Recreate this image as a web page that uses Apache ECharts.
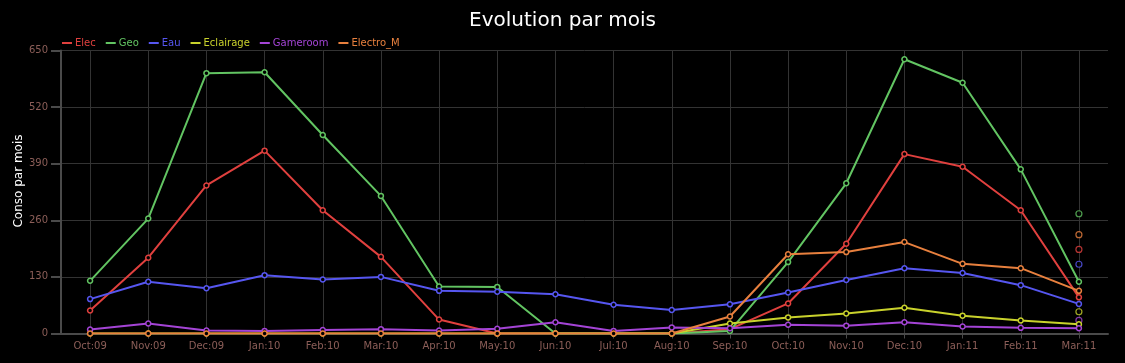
<!DOCTYPE html>
<html>
<head>
<meta charset="utf-8">
<script src="https://cdn.jsdelivr.net/npm/echarts@6/dist/echarts.min.js"></script>
<style>
html,body{margin:0;padding:0;background:#000;}
#c{width:1125px;height:363px;}
</style>
</head>
<body>
<div id="c"></div>
<script>
var categories = ['Oct:09','Nov:09','Dec:09','Jan:10','Feb:10','Mar:10','Apr:10','May:10','Jun:10','Jul:10','Aug:10','Sep:10','Oct:10','Nov:10','Dec:10','Jan:11','Feb:11','Mar:11'];
var elec      = [53,174,340,420,283,176,32,0,0,0,0,10,69,206,412,383,283,83];
var geo       = [121,264,598,600,456,316,108,107,0,0,0,6,164,345,630,576,377,119];
var eau       = [79,119,104,134,124,130,98,96,90,66,54,67,94,123,150,139,111,68];
var eclairage = [0,0,0,0,0,0,0,0,0,0,0,23,37,46,59,41,30,21];
var gameroom  = [9,23,7,6,8,10,7,11,26,6,14,12,20,18,26,16,13,12];
var electroM  = [0,0,0,0,0,0,0,0,0,0,0,39,182,187,210,160,150,98];
// isolated points at Mar:11
var projElec = 193, projGeo = 275, projEau = 159, projEclairage = 50, projGameroom = 30, projElectroM = 227;
var yTicks = [0,130,260,390,520,650];

var names = ['Elec','Geo','Eau','Eclairage','Gameroom','Electro_M'];
var values = [elec, geo, eau, eclairage, gameroom, electroM];
var projs = [projElec, projGeo, projEau, projEclairage, projGameroom, projElectroM];
var colors = ['#e0403e','#62c462','#5656f0','#c9d22c','#a444d6','#e8803e'];

var series = [];
names.forEach(function(n, i){
  series.push({
    name: n, type: 'line', data: values[i],
    symbol: 'circle', symbolSize: 5, showSymbol: true,
    lineStyle: {color: colors[i], width: 2},
    itemStyle: {color: '#000', borderColor: colors[i], borderWidth: 1.5},
    emphasis: {disabled: true}, z: 2 + i
  });
});
names.forEach(function(n, i){
  series.push({
    name: n + '_proj', type: 'scatter',
    data: [[categories[categories.length-1], projs[i]]],
    symbol: 'circle', symbolSize: 6,
    itemStyle: {color: '#000', borderColor: colors[i], borderWidth: 1.2},
    emphasis: {disabled: true}, z: 2
  });
});

var chart = echarts.init(document.getElementById('c'), null, {renderer: 'canvas'});
chart.setOption({
  backgroundColor: '#000',
  animation: false,
  textStyle: {fontFamily: 'DejaVu Sans'},
  title: {
    text: 'Evolution par mois', left: 'center', top: 6,
    textStyle: {color: '#fff', fontSize: 20, fontWeight: 'normal', fontFamily: 'DejaVu Sans'}
  },
  legend: {
    left: 57, top: 33, itemGap: 10, itemWidth: 10, itemHeight: 2, icon: 'rect',
    data: names.map(function(n, i){
      return {name: n, itemStyle: {color: colors[i], borderWidth: 0}, textStyle: {color: colors[i]}};
    }),
    textStyle: {fontSize: 10, fontFamily: 'DejaVu Sans', padding: [0,0,0,-2]}
  },
  grid: {left: 61, right: 17, top: 50.5, bottom: 29.5, containLabel: false},
  xAxis: {
    type: 'category', data: categories, boundaryGap: true,
    axisLine: {lineStyle: {color: '#4a4a4a', width: 2}},
    axisTick: {show: true, alignWithLabel: true, length: 5, lineStyle: {color: '#4a4a4a'}},
    axisLabel: {color: '#8c5e58', fontSize: 10, margin: 8, interval: 0, fontFamily: 'DejaVu Sans'},
    splitLine: {show: true, alignWithLabel: true, interval: 0, lineStyle: {color: '#333', width: 1}}
  },
  yAxis: {
    type: 'value', min: yTicks[0], max: yTicks[yTicks.length-1], interval: yTicks[1]-yTicks[0],
    name: 'Conso par mois', nameLocation: 'middle', nameGap: 36, nameRotate: 90, nameMoveOverlap: false,
    nameTextStyle: {color: '#fff', fontSize: 12, fontFamily: 'DejaVu Sans', padding: [0,0,0,22]},
    axisLine: {show: true, lineStyle: {color: '#4a4a4a', width: 2}},
    axisTick: {show: true, length: 10, lineStyle: {color: '#4a4a4a', width: 2}},
    axisLabel: {color: '#8c5e58', fontSize: 10, margin: 13, fontFamily: 'DejaVu Sans'},
    splitLine: {show: true, lineStyle: {color: '#333', width: 1}}
  },
  series: series
});
</script>
</body>
</html>
